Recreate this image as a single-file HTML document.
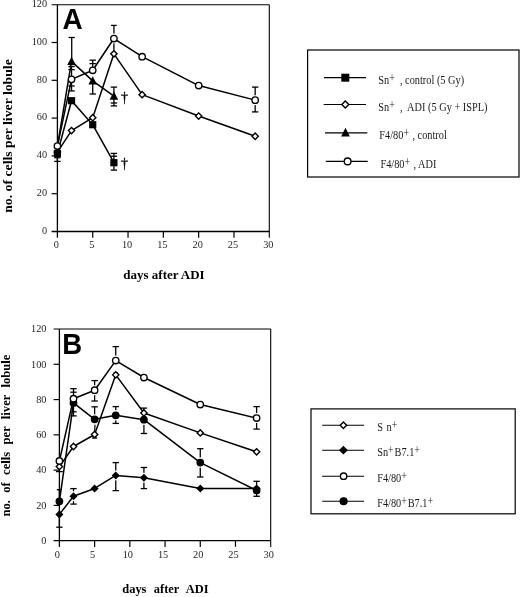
<!DOCTYPE html>
<html><head><meta charset="utf-8"><title>Figure</title>
<style>html,body{margin:0;padding:0;background:#fff}svg{display:block;filter:grayscale(1)}</style></head>
<body>
<svg width="520" height="597" viewBox="0 0 520 597">
<rect width="520" height="597" fill="#fff"/>
<line x1="57.4" y1="4.7" x2="57.4" y2="237.7" stroke="#000" stroke-width="1.3" />
<line x1="51.6" y1="231.5" x2="269.3" y2="231.5" stroke="#000" stroke-width="1.3" />
<line x1="51.6" y1="4.7" x2="269.3" y2="4.7" stroke="#000" stroke-width="1.1" />
<line x1="269.3" y1="4.7" x2="269.3" y2="237.7" stroke="#000" stroke-width="1.1" />
<line x1="51.6" y1="193.7" x2="57.4" y2="193.7" stroke="#000" stroke-width="1.2" />
<line x1="51.6" y1="155.9" x2="57.4" y2="155.9" stroke="#000" stroke-width="1.2" />
<line x1="51.6" y1="118.1" x2="57.4" y2="118.1" stroke="#000" stroke-width="1.2" />
<line x1="51.6" y1="80.3" x2="57.4" y2="80.3" stroke="#000" stroke-width="1.2" />
<line x1="51.6" y1="42.5" x2="57.4" y2="42.5" stroke="#000" stroke-width="1.2" />
<line x1="92.72" y1="231.5" x2="92.72" y2="237.7" stroke="#000" stroke-width="1.2" />
<line x1="128.03" y1="231.5" x2="128.03" y2="237.7" stroke="#000" stroke-width="1.2" />
<line x1="163.35" y1="231.5" x2="163.35" y2="237.7" stroke="#000" stroke-width="1.2" />
<line x1="198.67" y1="231.5" x2="198.67" y2="237.7" stroke="#000" stroke-width="1.2" />
<line x1="233.98" y1="231.5" x2="233.98" y2="237.7" stroke="#000" stroke-width="1.2" />
<text x="47.1" y="233.7" font-family="Liberation Serif" font-size="10.3" font-weight="normal" text-anchor="end" fill="#000" opacity="0.88">0</text>
<text x="47.1" y="195.9" font-family="Liberation Serif" font-size="10.3" font-weight="normal" text-anchor="end" fill="#000" opacity="0.88">20</text>
<text x="47.1" y="158.1" font-family="Liberation Serif" font-size="10.3" font-weight="normal" text-anchor="end" fill="#000" opacity="0.88">40</text>
<text x="47.1" y="120.3" font-family="Liberation Serif" font-size="10.3" font-weight="normal" text-anchor="end" fill="#000" opacity="0.88">60</text>
<text x="47.1" y="82.5" font-family="Liberation Serif" font-size="10.3" font-weight="normal" text-anchor="end" fill="#000" opacity="0.88">80</text>
<text x="47.1" y="44.7" font-family="Liberation Serif" font-size="10.3" font-weight="normal" text-anchor="end" fill="#000" opacity="0.88">100</text>
<text x="47.1" y="6.9" font-family="Liberation Serif" font-size="10.3" font-weight="normal" text-anchor="end" fill="#000" opacity="0.88">120</text>
<text x="56.4" y="247.9" font-family="Liberation Serif" font-size="10.3" font-weight="normal" text-anchor="middle" fill="#000" opacity="0.88">0</text>
<text x="91.72" y="247.9" font-family="Liberation Serif" font-size="10.3" font-weight="normal" text-anchor="middle" fill="#000" opacity="0.88">5</text>
<text x="127.03" y="247.9" font-family="Liberation Serif" font-size="10.3" font-weight="normal" text-anchor="middle" fill="#000" opacity="0.88">10</text>
<text x="162.35" y="247.9" font-family="Liberation Serif" font-size="10.3" font-weight="normal" text-anchor="middle" fill="#000" opacity="0.88">15</text>
<text x="197.67" y="247.9" font-family="Liberation Serif" font-size="10.3" font-weight="normal" text-anchor="middle" fill="#000" opacity="0.88">20</text>
<text x="232.98" y="247.9" font-family="Liberation Serif" font-size="10.3" font-weight="normal" text-anchor="middle" fill="#000" opacity="0.88">25</text>
<text x="268.3" y="247.9" font-family="Liberation Serif" font-size="10.3" font-weight="normal" text-anchor="middle" fill="#000" opacity="0.88">30</text>
<line x1="71.73" y1="37.5" x2="71.73" y2="60.83" stroke="#000" stroke-width="1.3" />
<line x1="68.53" y1="37.5" x2="74.93" y2="37.5" stroke="#000" stroke-width="1.3" />
<line x1="71.53" y1="66.5" x2="71.53" y2="79" stroke="#000" stroke-width="1.3" />
<line x1="68.33" y1="66.5" x2="74.73" y2="66.5" stroke="#000" stroke-width="1.3" />
<line x1="68.33" y1="69.6" x2="74.73" y2="69.6" stroke="#000" stroke-width="1.3" />
<line x1="71.53" y1="90.9" x2="71.53" y2="80" stroke="#000" stroke-width="1.3" />
<line x1="68.33" y1="90.9" x2="74.73" y2="90.9" stroke="#000" stroke-width="1.3" />
<line x1="68.33" y1="86" x2="74.73" y2="86" stroke="#000" stroke-width="1.3" />
<line x1="92.72" y1="60.2" x2="92.72" y2="70" stroke="#000" stroke-width="1.3" />
<line x1="89.52" y1="60.2" x2="95.92" y2="60.2" stroke="#000" stroke-width="1.3" />
<line x1="89.52" y1="63.6" x2="95.92" y2="63.6" stroke="#000" stroke-width="1.3" />
<line x1="92.72" y1="94" x2="92.72" y2="80" stroke="#000" stroke-width="1.3" />
<line x1="89.52" y1="94" x2="95.92" y2="94" stroke="#000" stroke-width="1.3" />
<line x1="113.91" y1="25.4" x2="113.91" y2="38" stroke="#000" stroke-width="1.3" />
<line x1="111.06" y1="25.4" x2="116.76" y2="25.4" stroke="#000" stroke-width="1.3" />
<line x1="113.91" y1="42" x2="113.91" y2="52" stroke="#000" stroke-width="1.3" />
<line x1="113.91" y1="87.1" x2="113.91" y2="96" stroke="#000" stroke-width="1.3" />
<line x1="110.71" y1="87.1" x2="117.11" y2="87.1" stroke="#000" stroke-width="1.3" />
<line x1="113.91" y1="105.9" x2="113.91" y2="96" stroke="#000" stroke-width="1.3" />
<line x1="110.71" y1="105.9" x2="117.11" y2="105.9" stroke="#000" stroke-width="1.3" />
<line x1="110.71" y1="103" x2="117.11" y2="103" stroke="#000" stroke-width="1.3" />
<line x1="113.91" y1="153.4" x2="113.91" y2="162" stroke="#000" stroke-width="1.3" />
<line x1="110.71" y1="153.4" x2="117.11" y2="153.4" stroke="#000" stroke-width="1.3" />
<line x1="110.71" y1="156.2" x2="117.11" y2="156.2" stroke="#000" stroke-width="1.3" />
<line x1="113.91" y1="170.1" x2="113.91" y2="162" stroke="#000" stroke-width="1.3" />
<line x1="110.71" y1="170.1" x2="117.11" y2="170.1" stroke="#000" stroke-width="1.3" />
<line x1="57.4" y1="161.4" x2="57.4" y2="150" stroke="#000" stroke-width="1.3" />
<line x1="54.2" y1="161.4" x2="60.6" y2="161.4" stroke="#000" stroke-width="1.3" />
<line x1="54.2" y1="157.7" x2="60.6" y2="157.7" stroke="#000" stroke-width="1.3" />
<line x1="255.17" y1="87.1" x2="255.17" y2="100" stroke="#000" stroke-width="1.3" />
<line x1="251.97" y1="87.1" x2="258.37" y2="87.1" stroke="#000" stroke-width="1.3" />
<line x1="255.17" y1="111.9" x2="255.17" y2="100" stroke="#000" stroke-width="1.3" />
<line x1="251.97" y1="111.9" x2="258.37" y2="111.9" stroke="#000" stroke-width="1.3" />
<circle cx="255.17" cy="100.14" r="5" fill="#fff"/>
<circle cx="113.91" cy="38.53" r="5" fill="#fff"/>
<polyline points="57.4,146.45 71.53,61.4 92.72,80.87 113.91,96.18" fill="none" stroke="#000" stroke-width="1.5" stroke-linejoin="round"/>
<polyline points="57.4,153.44 71.53,100.71 92.72,124.71 113.91,162.7" fill="none" stroke="#000" stroke-width="1.5" stroke-linejoin="round"/>
<polyline points="57.4,152.12 71.53,130.57 92.72,117.72 113.91,53.84 142.16,94.66 198.67,116.02 255.17,136.24" fill="none" stroke="#000" stroke-width="1.5" stroke-linejoin="round"/>
<polyline points="57.4,146.07 71.53,79.35 92.72,70.28 113.91,38.53 142.16,56.67 198.67,85.59 255.17,100.14" fill="none" stroke="#000" stroke-width="1.5" stroke-linejoin="round"/>
<path d="M54.25 152.12L57.4 148.97L60.55 152.12L57.4 155.27Z" fill="#fff" stroke="#000" stroke-width="1.4" stroke-linejoin="miter"/>
<path d="M68.38 130.57L71.53 127.42L74.68 130.57L71.53 133.72Z" fill="#fff" stroke="#000" stroke-width="1.4" stroke-linejoin="miter"/>
<path d="M89.57 117.72L92.72 114.57L95.87 117.72L92.72 120.87Z" fill="#fff" stroke="#000" stroke-width="1.4" stroke-linejoin="miter"/>
<path d="M110.76 53.84L113.91 50.69L117.06 53.84L113.91 56.99Z" fill="#fff" stroke="#000" stroke-width="1.4" stroke-linejoin="miter"/>
<path d="M139.01 94.66L142.16 91.51L145.31 94.66L142.16 97.81Z" fill="#fff" stroke="#000" stroke-width="1.4" stroke-linejoin="miter"/>
<path d="M195.52 116.02L198.67 112.87L201.82 116.02L198.67 119.17Z" fill="#fff" stroke="#000" stroke-width="1.4" stroke-linejoin="miter"/>
<path d="M252.02 136.24L255.17 133.09L258.32 136.24L255.17 139.39Z" fill="#fff" stroke="#000" stroke-width="1.4" stroke-linejoin="miter"/>
<path d="M67.22 65.09L71.53 56.68L75.83 65.09Z" fill="#000"/>
<path d="M88.41 84.56L92.72 76.15L97.02 84.56Z" fill="#000"/>
<path d="M109.6 99.87L113.91 91.46L118.21 99.87Z" fill="#000"/>
<rect x="53.8" y="149.84" width="7.2" height="7.2" fill="#000"/>
<rect x="67.93" y="97.11" width="7.2" height="7.2" fill="#000"/>
<rect x="89.12" y="121.11" width="7.2" height="7.2" fill="#000"/>
<rect x="110.31" y="159.1" width="7.2" height="7.2" fill="#000"/>
<circle cx="57.4" cy="146.07" r="3.2" fill="#fff" stroke="#000" stroke-width="1.35"/>
<circle cx="71.53" cy="79.35" r="3.2" fill="#fff" stroke="#000" stroke-width="1.35"/>
<circle cx="92.72" cy="70.28" r="3.2" fill="#fff" stroke="#000" stroke-width="1.35"/>
<circle cx="113.91" cy="38.53" r="3.2" fill="#fff" stroke="#000" stroke-width="1.35"/>
<circle cx="142.16" cy="56.67" r="3.2" fill="#fff" stroke="#000" stroke-width="1.35"/>
<circle cx="198.67" cy="85.59" r="3.2" fill="#fff" stroke="#000" stroke-width="1.35"/>
<circle cx="255.17" cy="100.14" r="3.2" fill="#fff" stroke="#000" stroke-width="1.35"/>
<text x="124.6" y="102.3" font-family="Liberation Serif" font-size="14" font-weight="normal" text-anchor="middle" fill="#000" stroke="#000" stroke-width="0.3">†</text>
<text x="124.6" y="167.6" font-family="Liberation Serif" font-size="14" font-weight="normal" text-anchor="middle" fill="#000" stroke="#000" stroke-width="0.3">†</text>
<text transform="translate(62.4,29.4) scale(1,1.07)" font-family="Liberation Sans" font-size="28" font-weight="bold" fill="#000">A</text>
<text x="164" y="278.6" font-family="Liberation Serif" font-size="13" font-weight="bold" text-anchor="middle" fill="#000" >days after ADI</text>
<text transform="translate(11.5,136) rotate(-90) scale(1.108,1)" font-family="Liberation Serif" font-size="12.4" font-weight="bold" text-anchor="middle" fill="#000">no. of cells per liver lobule</text>
<rect x="307.6" y="50" width="211.4" height="127" fill="none" stroke="#000" stroke-width="1.2"/>
<line x1="323.9" y1="77.7" x2="366" y2="77.7" stroke="#000" stroke-width="1.2" />
<rect x="341.3" y="73.7" width="8" height="8" fill="#000"/>
<line x1="323.7" y1="104.5" x2="366" y2="104.5" stroke="#000" stroke-width="1.2" />
<path d="M341.8 104.5L345.3 101L348.8 104.5L345.3 108Z" fill="#fff" stroke="#000" stroke-width="1.4" stroke-linejoin="miter"/>
<line x1="325" y1="132.8" x2="367.3" y2="132.8" stroke="#000" stroke-width="1.2" />
<path d="M341.09 136.38L345.5 127.77L349.91 136.38Z" fill="#000"/>
<line x1="325.8" y1="161.4" x2="367.7" y2="161.4" stroke="#000" stroke-width="1.2" />
<circle cx="347.6" cy="161.4" r="3.35" fill="#fff" stroke="#000" stroke-width="1.35"/>
<text transform="translate(378.3,84.2) scale(0.86,1)" font-family="Liberation Serif" font-size="12" fill="#1a1a1a" xml:space="preserve">Sn<tspan dy="-2.4" font-size="11.5">+</tspan><tspan dy="2.4" font-size="4"> </tspan>  <tspan dx="-1">,</tspan> control (5 Gy)</text>
<text transform="translate(378.3,111) scale(0.86,1)" font-family="Liberation Serif" font-size="12" fill="#1a1a1a" xml:space="preserve">Sn<tspan dy="-2.4" font-size="11.5">+</tspan><tspan dy="2.4" font-size="4"> </tspan>  <tspan dx="-1">,</tspan>  ADI (5 Gy + ISPL)</text>
<text transform="translate(379.3,139.3) scale(0.86,1)" font-family="Liberation Serif" font-size="12" fill="#1a1a1a" xml:space="preserve">F4/80<tspan dy="-2.4" font-size="11.5">+</tspan><tspan dy="2.4" font-size="4"> </tspan> , control</text>
<text transform="translate(380.4,167.9) scale(0.86,1)" font-family="Liberation Serif" font-size="12" fill="#1a1a1a" xml:space="preserve">F4/80<tspan dy="-2.4" font-size="11.5">+</tspan><tspan dy="2.4" font-size="4"> </tspan> , ADI</text>
<line x1="59.4" y1="329" x2="59.4" y2="546.9" stroke="#000" stroke-width="1.3" />
<line x1="53.6" y1="540.7" x2="270.7" y2="540.7" stroke="#000" stroke-width="1.3" />
<line x1="53.6" y1="329" x2="270.7" y2="329" stroke="#000" stroke-width="1.1" />
<line x1="270.7" y1="329" x2="270.7" y2="546.9" stroke="#000" stroke-width="1.1" />
<line x1="53.6" y1="505.42" x2="59.4" y2="505.42" stroke="#000" stroke-width="1.2" />
<line x1="53.6" y1="470.13" x2="59.4" y2="470.13" stroke="#000" stroke-width="1.2" />
<line x1="53.6" y1="434.85" x2="59.4" y2="434.85" stroke="#000" stroke-width="1.2" />
<line x1="53.6" y1="399.57" x2="59.4" y2="399.57" stroke="#000" stroke-width="1.2" />
<line x1="53.6" y1="364.28" x2="59.4" y2="364.28" stroke="#000" stroke-width="1.2" />
<line x1="94.62" y1="540.7" x2="94.62" y2="546.9" stroke="#000" stroke-width="1.2" />
<line x1="129.83" y1="540.7" x2="129.83" y2="546.9" stroke="#000" stroke-width="1.2" />
<line x1="165.05" y1="540.7" x2="165.05" y2="546.9" stroke="#000" stroke-width="1.2" />
<line x1="200.27" y1="540.7" x2="200.27" y2="546.9" stroke="#000" stroke-width="1.2" />
<line x1="235.48" y1="540.7" x2="235.48" y2="546.9" stroke="#000" stroke-width="1.2" />
<text x="46.5" y="544" font-family="Liberation Serif" font-size="10.3" font-weight="normal" text-anchor="end" fill="#000" opacity="0.88">0</text>
<text x="46.5" y="508.72" font-family="Liberation Serif" font-size="10.3" font-weight="normal" text-anchor="end" fill="#000" opacity="0.88">20</text>
<text x="46.5" y="473.43" font-family="Liberation Serif" font-size="10.3" font-weight="normal" text-anchor="end" fill="#000" opacity="0.88">40</text>
<text x="46.5" y="438.15" font-family="Liberation Serif" font-size="10.3" font-weight="normal" text-anchor="end" fill="#000" opacity="0.88">60</text>
<text x="46.5" y="402.87" font-family="Liberation Serif" font-size="10.3" font-weight="normal" text-anchor="end" fill="#000" opacity="0.88">80</text>
<text x="46.5" y="367.58" font-family="Liberation Serif" font-size="10.3" font-weight="normal" text-anchor="end" fill="#000" opacity="0.88">100</text>
<text x="46.5" y="332.3" font-family="Liberation Serif" font-size="10.3" font-weight="normal" text-anchor="end" fill="#000" opacity="0.88">120</text>
<text x="57.4" y="558.3" font-family="Liberation Serif" font-size="10.3" font-weight="normal" text-anchor="middle" fill="#000" opacity="0.88">0</text>
<text x="92.62" y="558.3" font-family="Liberation Serif" font-size="10.3" font-weight="normal" text-anchor="middle" fill="#000" opacity="0.88">5</text>
<text x="127.83" y="558.3" font-family="Liberation Serif" font-size="10.3" font-weight="normal" text-anchor="middle" fill="#000" opacity="0.88">10</text>
<text x="163.05" y="558.3" font-family="Liberation Serif" font-size="10.3" font-weight="normal" text-anchor="middle" fill="#000" opacity="0.88">15</text>
<text x="198.27" y="558.3" font-family="Liberation Serif" font-size="10.3" font-weight="normal" text-anchor="middle" fill="#000" opacity="0.88">20</text>
<text x="233.48" y="558.3" font-family="Liberation Serif" font-size="10.3" font-weight="normal" text-anchor="middle" fill="#000" opacity="0.88">25</text>
<text x="268.7" y="558.3" font-family="Liberation Serif" font-size="10.3" font-weight="normal" text-anchor="middle" fill="#000" opacity="0.88">30</text>
<line x1="59.4" y1="527.2" x2="59.4" y2="514" stroke="#000" stroke-width="1.3" />
<line x1="56.2" y1="527.2" x2="62.6" y2="527.2" stroke="#000" stroke-width="1.3" />
<line x1="59.4" y1="489.7" x2="59.4" y2="501" stroke="#000" stroke-width="1.3" />
<line x1="56.8" y1="489.7" x2="62" y2="489.7" stroke="#000" stroke-width="1.3" />
<line x1="56" y1="471.6" x2="62.8" y2="471.6" stroke="#000" stroke-width="1.3" />
<line x1="73.49" y1="488.6" x2="73.49" y2="496" stroke="#000" stroke-width="1.3" />
<line x1="70.29" y1="488.6" x2="76.69" y2="488.6" stroke="#000" stroke-width="1.3" />
<line x1="73.49" y1="504.1" x2="73.49" y2="496" stroke="#000" stroke-width="1.3" />
<line x1="70.29" y1="504.1" x2="76.69" y2="504.1" stroke="#000" stroke-width="1.3" />
<line x1="73.49" y1="388.7" x2="73.49" y2="400" stroke="#000" stroke-width="1.3" />
<line x1="70.29" y1="388.7" x2="76.69" y2="388.7" stroke="#000" stroke-width="1.3" />
<line x1="70.29" y1="392.2" x2="76.69" y2="392.2" stroke="#000" stroke-width="1.3" />
<line x1="73.49" y1="415.9" x2="73.49" y2="403" stroke="#000" stroke-width="1.3" />
<line x1="70.29" y1="415.9" x2="76.69" y2="415.9" stroke="#000" stroke-width="1.3" />
<line x1="70.29" y1="411.8" x2="76.69" y2="411.8" stroke="#000" stroke-width="1.3" />
<line x1="94.62" y1="380.6" x2="94.62" y2="390" stroke="#000" stroke-width="1.3" />
<line x1="91.42" y1="380.6" x2="97.82" y2="380.6" stroke="#000" stroke-width="1.3" />
<line x1="94.62" y1="401" x2="94.62" y2="394" stroke="#000" stroke-width="1.3" />
<line x1="91.42" y1="401" x2="97.82" y2="401" stroke="#000" stroke-width="1.3" />
<line x1="94.62" y1="406.8" x2="94.62" y2="419" stroke="#000" stroke-width="1.3" />
<line x1="91.42" y1="406.8" x2="97.82" y2="406.8" stroke="#000" stroke-width="1.3" />
<line x1="94.62" y1="438" x2="94.62" y2="434" stroke="#000" stroke-width="1.3" />
<line x1="92.02" y1="438" x2="97.22" y2="438" stroke="#000" stroke-width="1.3" />
<line x1="95.02" y1="424.5" x2="94.62" y2="432" stroke="#000" stroke-width="1.2" />
<line x1="115.75" y1="346.6" x2="115.75" y2="360" stroke="#000" stroke-width="1.3" />
<line x1="112.55" y1="346.6" x2="118.95" y2="346.6" stroke="#000" stroke-width="1.3" />
<line x1="115.75" y1="406.6" x2="115.75" y2="415" stroke="#000" stroke-width="1.3" />
<line x1="112.55" y1="406.6" x2="118.95" y2="406.6" stroke="#000" stroke-width="1.3" />
<line x1="115.75" y1="423.4" x2="115.75" y2="415" stroke="#000" stroke-width="1.3" />
<line x1="112.55" y1="423.4" x2="118.95" y2="423.4" stroke="#000" stroke-width="1.3" />
<line x1="115.75" y1="372.9" x2="115.75" y2="376" stroke="#000" stroke-width="1.3" />
<line x1="113.55" y1="372.9" x2="117.95" y2="372.9" stroke="#000" stroke-width="1.3" />
<line x1="115.75" y1="462.6" x2="115.75" y2="475" stroke="#000" stroke-width="1.3" />
<line x1="112.55" y1="462.6" x2="118.95" y2="462.6" stroke="#000" stroke-width="1.3" />
<line x1="115.75" y1="490.6" x2="115.75" y2="475" stroke="#000" stroke-width="1.3" />
<line x1="112.55" y1="490.6" x2="118.95" y2="490.6" stroke="#000" stroke-width="1.3" />
<line x1="143.92" y1="467.5" x2="143.92" y2="478" stroke="#000" stroke-width="1.3" />
<line x1="140.72" y1="467.5" x2="147.12" y2="467.5" stroke="#000" stroke-width="1.3" />
<line x1="143.92" y1="488.6" x2="143.92" y2="478" stroke="#000" stroke-width="1.3" />
<line x1="140.72" y1="488.6" x2="147.12" y2="488.6" stroke="#000" stroke-width="1.3" />
<line x1="143.92" y1="408.1" x2="143.92" y2="419" stroke="#000" stroke-width="1.3" />
<line x1="140.72" y1="408.1" x2="147.12" y2="408.1" stroke="#000" stroke-width="1.3" />
<line x1="143.92" y1="433.5" x2="143.92" y2="419" stroke="#000" stroke-width="1.3" />
<line x1="140.72" y1="433.5" x2="147.12" y2="433.5" stroke="#000" stroke-width="1.3" />
<line x1="200.27" y1="448.7" x2="200.27" y2="462" stroke="#000" stroke-width="1.3" />
<line x1="197.07" y1="448.7" x2="203.47" y2="448.7" stroke="#000" stroke-width="1.3" />
<line x1="200.27" y1="477" x2="200.27" y2="462" stroke="#000" stroke-width="1.3" />
<line x1="197.07" y1="477" x2="203.47" y2="477" stroke="#000" stroke-width="1.3" />
<line x1="256.61" y1="406.6" x2="256.61" y2="417" stroke="#000" stroke-width="1.3" />
<line x1="253.41" y1="406.6" x2="259.81" y2="406.6" stroke="#000" stroke-width="1.3" />
<line x1="256.61" y1="429.1" x2="256.61" y2="417" stroke="#000" stroke-width="1.3" />
<line x1="253.41" y1="429.1" x2="259.81" y2="429.1" stroke="#000" stroke-width="1.3" />
<line x1="256.61" y1="481.3" x2="256.61" y2="490" stroke="#000" stroke-width="1.3" />
<line x1="253.41" y1="481.3" x2="259.81" y2="481.3" stroke="#000" stroke-width="1.3" />
<line x1="256.61" y1="496.3" x2="256.61" y2="490" stroke="#000" stroke-width="1.3" />
<line x1="253.41" y1="496.3" x2="259.81" y2="496.3" stroke="#000" stroke-width="1.3" />
<circle cx="115.75" cy="360.58" r="5" fill="#fff"/>
<circle cx="256.61" cy="418.09" r="5" fill="#fff"/>
<circle cx="94.62" cy="390.22" r="5" fill="#fff"/>
<circle cx="115.75" cy="415.27" r="5.2" fill="#fff"/>
<circle cx="143.92" cy="419.68" r="5.2" fill="#fff"/>
<circle cx="200.27" cy="462.55" r="5.2" fill="#fff"/>
<circle cx="94.62" cy="419.33" r="5.2" fill="#fff"/>
<circle cx="73.49" cy="496.24" r="5" fill="#fff"/>
<circle cx="115.75" cy="475.43" r="5" fill="#fff"/>
<circle cx="143.92" cy="477.72" r="5" fill="#fff"/>
<polyline points="59.4,514.41 73.49,496.24 94.62,488.48 115.75,475.43 143.92,477.72 200.27,488.48 256.61,488.48" fill="none" stroke="#000" stroke-width="1.5" stroke-linejoin="round"/>
<polyline points="59.4,501.36 73.49,402.92 94.62,419.33 115.75,415.27 143.92,419.68 200.27,462.55 256.61,490.42" fill="none" stroke="#000" stroke-width="1.5" stroke-linejoin="round"/>
<polyline points="59.4,466.61 73.49,446.49 94.62,434.5 115.75,374.87 143.92,412.97 200.27,432.91 256.61,451.79" fill="none" stroke="#000" stroke-width="1.5" stroke-linejoin="round"/>
<polyline points="59.4,460.96 73.49,398.68 94.62,390.22 115.75,360.58 143.92,377.51 200.27,404.51 256.61,418.09" fill="none" stroke="#000" stroke-width="1.5" stroke-linejoin="round"/>
<path d="M56.35 514.41L59.4 511.36L62.45 514.41L59.4 517.46Z" fill="#000" stroke="#000" stroke-width="1.4" stroke-linejoin="miter"/>
<path d="M70.44 496.24L73.49 493.19L76.54 496.24L73.49 499.29Z" fill="#000" stroke="#000" stroke-width="1.4" stroke-linejoin="miter"/>
<path d="M91.57 488.48L94.62 485.43L97.67 488.48L94.62 491.53Z" fill="#000" stroke="#000" stroke-width="1.4" stroke-linejoin="miter"/>
<path d="M112.7 475.43L115.75 472.38L118.8 475.43L115.75 478.48Z" fill="#000" stroke="#000" stroke-width="1.4" stroke-linejoin="miter"/>
<path d="M140.87 477.72L143.92 474.67L146.97 477.72L143.92 480.77Z" fill="#000" stroke="#000" stroke-width="1.4" stroke-linejoin="miter"/>
<path d="M197.22 488.48L200.27 485.43L203.32 488.48L200.27 491.53Z" fill="#000" stroke="#000" stroke-width="1.4" stroke-linejoin="miter"/>
<path d="M253.56 488.48L256.61 485.43L259.66 488.48L256.61 491.53Z" fill="#000" stroke="#000" stroke-width="1.4" stroke-linejoin="miter"/>
<circle cx="59.4" cy="501.36" r="3.2" fill="#000" stroke="#000" stroke-width="1.35"/>
<circle cx="73.49" cy="402.92" r="3.2" fill="#000" stroke="#000" stroke-width="1.35"/>
<circle cx="94.62" cy="419.33" r="3.2" fill="#000" stroke="#000" stroke-width="1.35"/>
<circle cx="115.75" cy="415.27" r="3.2" fill="#000" stroke="#000" stroke-width="1.35"/>
<circle cx="143.92" cy="419.68" r="3.2" fill="#000" stroke="#000" stroke-width="1.35"/>
<circle cx="200.27" cy="462.55" r="3.2" fill="#000" stroke="#000" stroke-width="1.35"/>
<circle cx="256.61" cy="490.42" r="3.2" fill="#000" stroke="#000" stroke-width="1.35"/>
<path d="M56.25 466.61L59.4 463.46L62.55 466.61L59.4 469.75Z" fill="#fff" stroke="#000" stroke-width="1.4" stroke-linejoin="miter"/>
<path d="M70.34 446.49L73.49 443.34L76.64 446.49L73.49 449.64Z" fill="#fff" stroke="#000" stroke-width="1.4" stroke-linejoin="miter"/>
<path d="M91.47 434.5L94.62 431.35L97.77 434.5L94.62 437.65Z" fill="#fff" stroke="#000" stroke-width="1.4" stroke-linejoin="miter"/>
<path d="M112.6 374.87L115.75 371.72L118.9 374.87L115.75 378.02Z" fill="#fff" stroke="#000" stroke-width="1.4" stroke-linejoin="miter"/>
<path d="M140.77 412.97L143.92 409.82L147.07 412.97L143.92 416.12Z" fill="#fff" stroke="#000" stroke-width="1.4" stroke-linejoin="miter"/>
<path d="M197.12 432.91L200.27 429.76L203.42 432.91L200.27 436.06Z" fill="#fff" stroke="#000" stroke-width="1.4" stroke-linejoin="miter"/>
<path d="M253.46 451.79L256.61 448.64L259.76 451.79L256.61 454.94Z" fill="#fff" stroke="#000" stroke-width="1.4" stroke-linejoin="miter"/>
<circle cx="59.4" cy="460.96" r="3.2" fill="#fff" stroke="#000" stroke-width="1.35"/>
<circle cx="73.49" cy="398.68" r="3.2" fill="#fff" stroke="#000" stroke-width="1.35"/>
<circle cx="94.62" cy="390.22" r="3.2" fill="#fff" stroke="#000" stroke-width="1.35"/>
<circle cx="115.75" cy="360.58" r="3.2" fill="#fff" stroke="#000" stroke-width="1.35"/>
<circle cx="143.92" cy="377.51" r="3.2" fill="#fff" stroke="#000" stroke-width="1.35"/>
<circle cx="200.27" cy="404.51" r="3.2" fill="#fff" stroke="#000" stroke-width="1.35"/>
<circle cx="256.61" cy="418.09" r="3.2" fill="#fff" stroke="#000" stroke-width="1.35"/>
<text transform="translate(62.2,353.8) scale(1,1.05)" font-family="Liberation Sans" font-size="27.5" font-weight="bold" fill="#000">B</text>
<text x="165.4" y="592.8" font-family="Liberation Serif" font-size="12.4" font-weight="bold" text-anchor="middle" fill="#000" word-spacing="4.3">days after ADI</text>
<text transform="translate(9.6,435.6) rotate(-90)" font-family="Liberation Serif" font-size="12.6" font-weight="bold" text-anchor="middle" fill="#000" word-spacing="4.2">no. of cells per liver lobule</text>
<rect x="311" y="408.9" width="204.2" height="104.9" fill="none" stroke="#000" stroke-width="1.2"/>
<line x1="322.2" y1="425.2" x2="364.1" y2="425.2" stroke="#000" stroke-width="1.1" />
<line x1="322.2" y1="450.2" x2="364.1" y2="450.2" stroke="#000" stroke-width="1.1" />
<line x1="322.2" y1="476.2" x2="364.1" y2="476.2" stroke="#000" stroke-width="1.1" />
<line x1="322.2" y1="501.2" x2="364.1" y2="501.2" stroke="#000" stroke-width="1.1" />
<path d="M340.2 425.2L343.4 422L346.6 425.2L343.4 428.4Z" fill="#fff" stroke="#000" stroke-width="1.4" stroke-linejoin="miter"/>
<path d="M340 450.2L343.4 446.8L346.8 450.2L343.4 453.6Z" fill="#000" stroke="#000" stroke-width="1.4" stroke-linejoin="miter"/>
<circle cx="343.6" cy="476.2" r="3.2" fill="#fff" stroke="#000" stroke-width="1.35"/>
<circle cx="343.6" cy="501.2" r="3.4" fill="#000" stroke="#000" stroke-width="1.35"/>
<text transform="translate(377.2,431.1) scale(0.86,1)" font-family="Liberation Serif" font-size="12" fill="#1a1a1a" xml:space="preserve">S <tspan dx="1.2">n</tspan><tspan dy="-2.4" font-size="11.5">+</tspan><tspan dy="2.4" font-size="4"> </tspan></text>
<text transform="translate(377.2,456.1) scale(0.86,1)" font-family="Liberation Serif" font-size="12" fill="#1a1a1a" xml:space="preserve">Sn<tspan dy="-2.4" font-size="11.5">+</tspan><tspan dy="2.4" font-size="4"> </tspan>B7.1<tspan dy="-2.4" font-size="11.5">+</tspan><tspan dy="2.4" font-size="4"> </tspan></text>
<text transform="translate(377.2,482.1) scale(0.86,1)" font-family="Liberation Serif" font-size="12" fill="#1a1a1a" xml:space="preserve">F4/80<tspan dy="-2.4" font-size="11.5">+</tspan><tspan dy="2.4" font-size="4"> </tspan></text>
<text transform="translate(377.2,507.1) scale(0.86,1)" font-family="Liberation Serif" font-size="12" fill="#1a1a1a" xml:space="preserve">F4/80<tspan dy="-2.4" font-size="11.5">+</tspan><tspan dy="2.4" font-size="4"> </tspan>B7.1<tspan dy="-2.4" font-size="11.5">+</tspan><tspan dy="2.4" font-size="4"> </tspan></text>
</svg>
</body></html>
